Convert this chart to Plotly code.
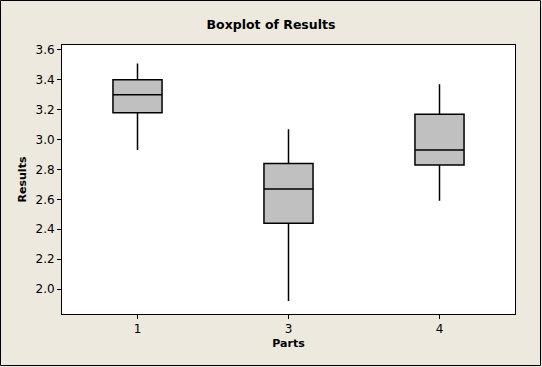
import plotly.graph_objects as go

parts = ["1", "3", "4"]
q1 = [3.18, 2.44, 2.83]
median = [3.30, 2.67, 2.93]
q3 = [3.40, 2.84, 3.17]
lower = [2.93, 1.92, 2.59]
upper = [3.51, 3.07, 3.37]
y_ticks = [2.0, 2.2, 2.4, 2.6, 2.8, 3.0, 3.2, 3.4, 3.6]

W, H = 542, 367
ml, mr, mt, mb = 62, 27, 45, 53
pw, ph = W - ml - mr, H - mt - mb

fig = go.Figure()
fig.add_trace(go.Box(
    x=parts, q1=q1, median=median, q3=q3,
    lowerfence=lower, upperfence=upper,
    fillcolor="#C0C0C0",
    line=dict(color="black", width=1.5),
    whiskerwidth=0,
    width=0.325,
    boxpoints=False,
    showlegend=False,
    hoverinfo="skip",
))

font = "DejaVu Sans, Verdana, sans-serif"
fig.update_layout(
    width=W, height=H,
    margin=dict(l=ml, r=mr, t=mt, b=mb, pad=0),
    paper_bgcolor="#EDE9DF",
    plot_bgcolor="white",
    font=dict(family=font, size=12, color="black"),
    title=dict(text="<b>Boxplot of Results</b>", x=0.5, xanchor="center",
               y=1 - 25 / H, yanchor="middle", yref="container",
               font=dict(size=12.5, family=font, color="black")),
    xaxis=dict(
        type="category", range=[-0.5, 2.5],
        showline=True, mirror=True, linecolor="black", linewidth=1,
        ticks="outside", ticklen=4, tickcolor="black",
        tickfont=dict(size=12),
        showgrid=False, zeroline=False,
        title=dict(text="<b>Parts</b>", standoff=3, font=dict(size=11)),
        automargin=False,
    ),
    yaxis=dict(
        range=[1.833, 3.633],
        tickvals=y_ticks, ticktext=[f"{v:.1f}" for v in y_ticks],
        showline=True, mirror=True, linecolor="black", linewidth=1,
        ticks="outside", ticklen=4, tickcolor="black",
        tickfont=dict(size=12),
        showgrid=False, zeroline=False,
        title=dict(text="<b>Results</b>", standoff=6, font=dict(size=11)),
        automargin=False,
    ),
    shapes=[dict(
        type="rect", xref="paper", yref="paper",
        x0=-(ml - 0.5) / pw, x1=1 + (mr - 1.5) / pw,
        y0=-(mb - 1.5) / ph, y1=1 + (mt - 0.5) / ph,
        line=dict(color="black", width=1), fillcolor="rgba(0,0,0,0)",
        layer="above",
    )],
)

fig.write_html("out.html", config={"displayModeBar": False},
               post_script="document.body.style.margin='0';document.body.style.padding='0';")
